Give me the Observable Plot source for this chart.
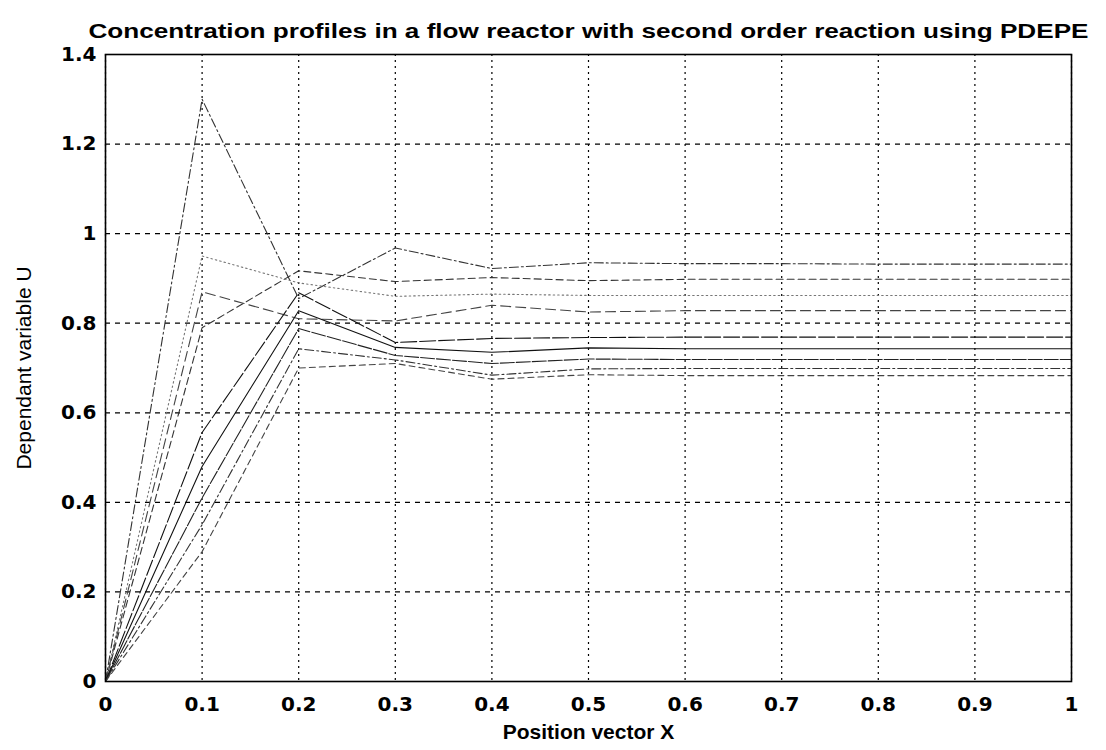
<!DOCTYPE html>
<html>
<head>
<meta charset="utf-8">
<script src="https://cdn.jsdelivr.net/npm/d3@7"></script>
<script src="https://cdn.jsdelivr.net/npm/@observablehq/plot@0.6"></script>
<style>
  html, body { margin: 0; padding: 0; background: #fff; }
  #chart svg { display: block; }
  #chart svg g[aria-label^="x-axis"] text,
  #chart svg g[aria-label^="y-axis"] text {
    font-family: "DejaVu Sans", "Liberation Sans", sans-serif;
    font-weight: bold;
    font-size: 20px;
    fill: #000;
  }
</style>
</head>
<body>
<div id="chart"></div>
<script>
// ---- data ----
const xMesh = [0, 0.1, 0.2, 0.3, 0.4, 0.5, 0.6, 0.7, 0.8, 0.9, 1.0];

const seriesNames = ["A", "B", "C", "D", "E", "F", "G", "H", "I"];
const uA = [0, 1.30, 0.855, 0.968, 0.922, 0.935, 0.933, 0.933, 0.932, 0.932, 0.932];
const uB = [0, 0.79, 0.917, 0.893, 0.902, 0.895, 0.898, 0.898, 0.898, 0.898, 0.898];
const uC = [0, 0.95, 0.890, 0.860, 0.865, 0.862, 0.862, 0.862, 0.862, 0.862, 0.862];
const uD = [0, 0.87, 0.810, 0.805, 0.840, 0.825, 0.828, 0.828, 0.828, 0.828, 0.828];
const uE = [0, 0.556, 0.868, 0.757, 0.766, 0.768, 0.769, 0.769, 0.769, 0.769, 0.769];
const uF = [0, 0.48, 0.828, 0.746, 0.735, 0.745, 0.743, 0.743, 0.743, 0.743, 0.743];
const uG = [0, 0.41, 0.788, 0.728, 0.710, 0.720, 0.719, 0.719, 0.719, 0.719, 0.719];
const uH = [0, 0.35, 0.743, 0.718, 0.684, 0.698, 0.699, 0.699, 0.699, 0.699, 0.699];
const uI = [0, 0.29, 0.700, 0.710, 0.675, 0.685, 0.683, 0.683, 0.683, 0.683, 0.683];

const xTicks = [0, 0.1, 0.2, 0.3, 0.4, 0.5, 0.6, 0.7, 0.8, 0.9, 1];
const xTickLabels = ["0", "0.1", "0.2", "0.3", "0.4", "0.5", "0.6", "0.7", "0.8", "0.9", "1"];
const yTicks = [0, 0.2, 0.4, 0.6, 0.8, 1, 1.2, 1.4];
const yTickLabels = ["0", "0.2", "0.4", "0.6", "0.8", "1", "1.2", "1.4"];

const titleText = "Concentration profiles in a flow reactor with second order reaction using PDEPE";
const xLabelText = "Position vector X";
const yLabelText = "Dependant variable U";

// ---- styles (kept separate from data) ----
const lineStyle = {
  A: {dash: "9,3,2,3", stroke: "#333"},
  B: {dash: "7,4", stroke: "#333"},
  C: {dash: "1.5,3", stroke: "#777"},
  D: {dash: "10,5", stroke: "#444"},
  E: {dash: "16,3", stroke: "#111"},
  F: {dash: null, stroke: "#111"},
  G: {dash: "14,2", stroke: "#222"},
  H: {dash: "9,3,2,3", stroke: "#333"},
  I: {dash: "6,4", stroke: "#444"}
};

const seriesValues = {A: uA, B: uB, C: uC, D: uD, E: uE, F: uF, G: uG, H: uH, I: uI};
const rows = seriesNames.flatMap(s => seriesValues[s].map((u, i) => ({series: s, x: xMesh[i], u})));

const W = 1106, H = 750;
const lineMarks = seriesNames.map(s => Plot.line(rows.filter(r => r.series === s), {
  x: "x", y: "u",
  stroke: lineStyle[s].stroke,
  strokeWidth: 1.1,
  strokeDasharray: lineStyle[s].dash || undefined
}));

const plot = Plot.plot({
  width: W,
  height: H,
  marginLeft: 105,
  marginRight: 35,
  marginTop: 54,
  marginBottom: 69,
  style: {background: "#fff", color: "#000"},
  x: {domain: [0, 1], ticks: xTicks, tickFormat: d => xTickLabels[xTicks.findIndex(t => Math.abs(t - d) < 1e-9)], tickSize: 0, tickPadding: 15, label: null},
  y: {domain: [0, 1.4], ticks: yTicks, tickFormat: d => yTickLabels[yTicks.findIndex(t => Math.abs(t - d) < 1e-9)], tickSize: 0, tickPadding: 9, label: null},
  marks: [
    Plot.ruleX(xTicks, {stroke: "#000", strokeWidth: 1.2, strokeDasharray: "2,4"}),
    Plot.ruleY(yTicks, {stroke: "#000", strokeWidth: 1.2, strokeDasharray: "5,5"}),
    ...lineMarks,
    Plot.frame({stroke: "#000", strokeWidth: 1.6}),
    Plot.text([titleText], {frameAnchor: "top", dy: -31, fontSize: 21, fontWeight: "bold", fontFamily: "Liberation Sans, Arial, sans-serif", fill: "#000"}),
    Plot.text([xLabelText], {frameAnchor: "bottom", dy: 57, fontSize: 21, fontWeight: "bold", fontFamily: "Liberation Sans, Arial, sans-serif", fill: "#000"}),
    Plot.text([yLabelText], {frameAnchor: "left", dx: -81, rotate: -90, textAnchor: "middle", fontSize: 21, fontFamily: "Liberation Sans, Arial, sans-serif", fill: "#000"})
  ]
});

// stretch the title to the reference's width
d3.select(plot).selectAll("text").each(function() {
  if (this.textContent === titleText) {
    d3.select(this).attr("textLength", 1000).attr("lengthAdjust", "spacingAndGlyphs");
  }
});

document.getElementById("chart").appendChild(plot);
</script>
</body>
</html>
